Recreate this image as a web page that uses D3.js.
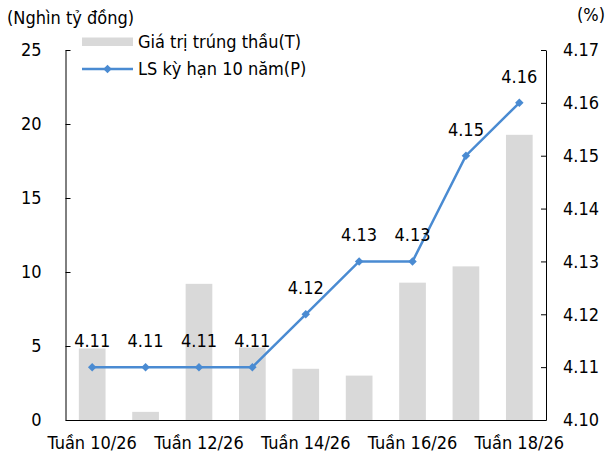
<!DOCTYPE html>
<html>
<head>
  <meta charset="utf-8">
  <style>
    body { margin: 0; background: white; }
    svg text { font-family: "DejaVu Sans Condensed", "DejaVu Sans", sans-serif; font-stretch: condensed; font-size: 18px; fill: #000; }
    .axis path, .axis line { stroke: #000; }
  </style>
</head>
<body>
  <div id="chart"></div>

  <script src="https://cdnjs.cloudflare.com/ajax/libs/d3/7.8.5/d3.min.js"></script>
  <script>
    // Dữ liệu
    const weeks = ["Tuần 10/26", "Tuần 11/26", "Tuần 12/26", "Tuần 13/26", "Tuần 14/26",
                   "Tuần 15/26", "Tuần 16/26", "Tuần 17/26", "Tuần 18/26"];
    const winValue = [4.83, 0.55, 9.2, 4.9, 3.46, 3.0, 9.28, 10.38, 19.27];
    const yield10y = [4.11, 4.11, 4.11, 4.11, 4.12, 4.13, 4.13, 4.15, 4.16];
    const shownWeeks = ["Tuần 10/26", "Tuần 12/26", "Tuần 14/26", "Tuần 16/26", "Tuần 18/26"];
    const leftTicks = [0, 5, 10, 15, 20, 25];
    const rightTicks = [4.10, 4.11, 4.12, 4.13, 4.14, 4.15, 4.16, 4.17];

    const width = 613, height = 459;
    const plot = { left: 65.5, right: 546, top: 50, bottom: 420 };
    const lineColor = "#4A8BD2";
    const barColor = "#D9D9D9";

    const svg = d3.select("#chart").append("svg")
      .attr("width", width)
      .attr("height", height);

    // Thang đo
    const x = d3.scaleBand()
      .domain(weeks)
      .range([plot.left, plot.right])
      .paddingInner(0.5)
      .paddingOuter(0.25);

    const yLeft = d3.scaleLinear().domain([0, 25]).range([plot.bottom, plot.top]);
    const yRight = d3.scaleLinear().domain([4.10, 4.17]).range([plot.bottom, plot.top]);

    // Cột
    svg.append("g")
      .selectAll("rect")
      .data(weeks)
      .join("rect")
      .attr("x", d => x(d))
      .attr("width", x.bandwidth())
      .attr("y", (d, i) => yLeft(winValue[i]))
      .attr("height", (d, i) => yLeft(0) - yLeft(winValue[i]))
      .attr("fill", barColor);

    // Trục
    const fixText = g => g.attr("font-family", null).attr("font-size", null);

    svg.append("g")
      .attr("class", "axis")
      .attr("transform", `translate(${plot.left},0)`)
      .call(d3.axisLeft(yLeft).tickValues(leftTicks).tickSize(-5).tickSizeOuter(0).tickPadding(24))
      .call(fixText);

    svg.append("g")
      .attr("class", "axis")
      .attr("transform", `translate(${plot.right},0)`)
      .call(d3.axisRight(yRight).tickValues(rightTicks).tickFormat(d3.format(".2f"))
        .tickSize(-5).tickSizeOuter(0).tickPadding(17))
      .call(fixText);

    svg.append("g")
      .attr("class", "axis")
      .attr("transform", `translate(0,${plot.bottom})`)
      .call(d3.axisBottom(x).tickValues(shownWeeks).tickSize(0).tickSizeOuter(0).tickPadding(16))
      .call(fixText);

    // Đường lãi suất
    const line = d3.line()
      .x((d, i) => x(weeks[i]) + x.bandwidth() / 2)
      .y(d => yRight(d));

    svg.append("path")
      .datum(yield10y)
      .attr("d", line)
      .attr("fill", "none")
      .attr("stroke", lineColor)
      .attr("stroke-width", 2.5);

    const diamond = d3.symbol(d3.symbolSquare, 36);

    svg.append("g")
      .selectAll("path")
      .data(yield10y)
      .join("path")
      .attr("d", diamond)
      .attr("transform", (d, i) => `translate(${x(weeks[i]) + x.bandwidth() / 2},${yRight(d)}) rotate(45)`)
      .attr("fill", lineColor);

    svg.append("g")
      .selectAll("text")
      .data(yield10y)
      .join("text")
      .attr("x", (d, i) => x(weeks[i]) + x.bandwidth() / 2)
      .attr("y", d => yRight(d) - 20)
      .attr("text-anchor", "middle")
      .text(d => d3.format(".2f")(d));

    // Tiêu đề trục
    svg.append("text").attr("x", 7).attr("y", 24).text("(Nghìn tỷ đồng)");
    svg.append("text").attr("x", 577).attr("y", 21).text("(%)");

    // Chú giải
    const legend = svg.append("g");
    legend.append("rect")
      .attr("x", 82).attr("y", 37.5).attr("width", 51).attr("height", 8.5)
      .attr("fill", barColor);
    legend.append("text").attr("x", 138).attr("y", 48).text("Giá trị trúng thầu(T)");

    legend.append("line")
      .attr("x1", 82).attr("x2", 133).attr("y1", 69).attr("y2", 69)
      .attr("stroke", lineColor).attr("stroke-width", 2.5);
    legend.append("path")
      .attr("d", diamond)
      .attr("transform", "translate(107.5,69) rotate(45)")
      .attr("fill", lineColor);
    legend.append("text").attr("x", 138).attr("y", 75).text("LS kỳ hạn 10 năm(P)");
  </script>
</body>
</html>
